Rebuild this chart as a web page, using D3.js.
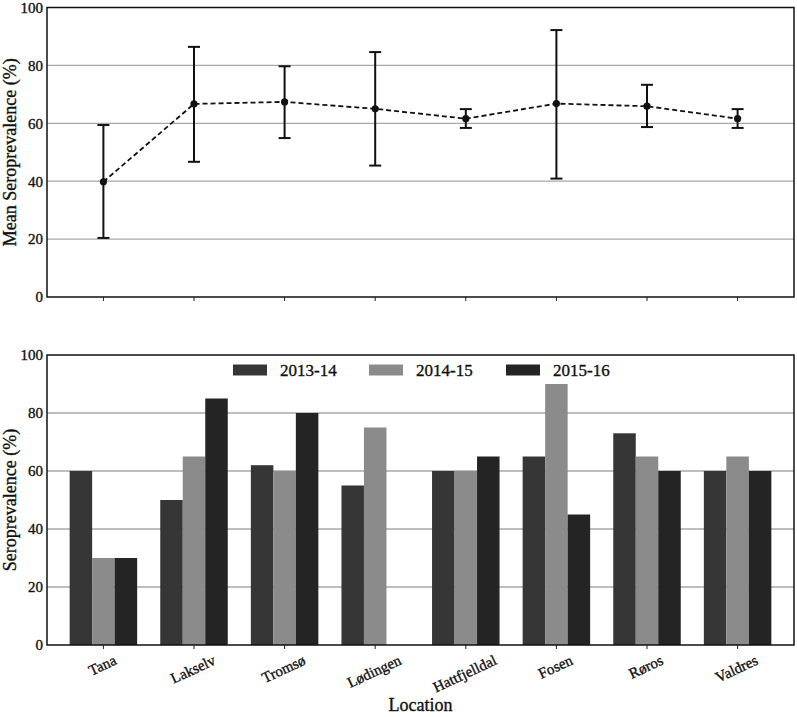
<!DOCTYPE html>
<html>
<head>
<meta charset="utf-8">
<script src="https://cdn.jsdelivr.net/npm/d3@7"></script>
<style>
  html, body { margin: 0; padding: 0; background: #fff; }
  svg { display: block; }
  text { font-family: "Liberation Serif", "Times New Roman", serif; fill: #111; stroke: #111; stroke-width: 0.35px; }
</style>
</head>
<body>
<svg id="chart" width="797" height="717"></svg>
<script>
// ---------- DATA ----------
const locations = ["Tana", "Lakselv", "Tromsø", "Lødingen", "Hattfjelldal", "Fosen", "Røros", "Valdres"];
const meanValues = [39.8, 66.7, 67.4, 65.0, 61.6, 66.8, 65.9, 61.6];
const errLow     = [20.4, 46.7, 54.9, 45.4, 58.4, 40.9, 58.7, 58.4];
const errHigh    = [59.4, 86.4, 79.7, 84.6, 64.9, 92.2, 73.3, 64.9];
const seasons = ["2013-14", "2014-15", "2015-16"];
const values2013 = [60, 50, 62, 55, 60, 65, 73, 60];
const values2014 = [30, 65, 60, 75, 60, 90, 65, 65];
const values2015 = [30, 85, 80, null, 65, 45, 60, 60];
const yTicks = [0, 20, 40, 60, 80, 100];

// ---------- LAYOUT ----------
const svg = d3.select("#chart");
const left = 47, right = 794;
const top1 = 7.5, bottom1 = 297;
const top2 = 355, bottom2 = 645;
const colors = ["#363636", "#8b8b8b", "#242424"];

const x = d3.scaleBand().domain(locations).range([left, right])
  .paddingInner(0.255).paddingOuter(0.25);
const xc = d => x(d) + x.bandwidth() / 2;
const xs = d3.scaleBand().domain(seasons).range([0, x.bandwidth()]);

const y1 = d3.scaleLinear().domain([0, 100]).range([bottom1, top1]);
const y2 = d3.scaleLinear().domain([0, 100]).range([bottom2, top2]);

function panelBase(y, top, bottom) {
  const g = svg.append("g");
  g.append("g").selectAll("line").data(yTicks.filter(t => t > 0 && t < 100)).join("line")
    .attr("x1", left).attr("x2", right)
    .attr("y1", d => y(d)).attr("y2", d => y(d))
    .attr("stroke", "#a8a8a8").attr("stroke-width", 1.3);
  const ya = g.append("g").attr("transform", `translate(${left},0)`)
    .call(d3.axisLeft(y).tickValues(yTicks).tickSize(0).tickPadding(4));
  ya.select(".domain").remove();
  ya.selectAll("text").attr("font-size", 15).attr("font-family", null).attr("fill", null);
  const xa = g.append("g").attr("transform", `translate(0,${bottom})`)
    .call(d3.axisBottom(x).tickSize(4).tickFormat(""));
  xa.select(".domain").remove();
  xa.selectAll("line").attr("stroke", "#222").attr("stroke-width", 1);
  return g;
}

function frame(top, bottom) {
  svg.append("rect").attr("x", left).attr("y", top)
    .attr("width", right - left).attr("height", bottom - top)
    .attr("fill", "none").attr("stroke", "#111").attr("stroke-width", 1.5);
}

// ---------- TOP PANEL ----------
panelBase(y1, top1, bottom1);

const eb = svg.append("g");
locations.forEach((loc, i) => {
  const cx = xc(loc);
  eb.append("line").attr("x1", cx).attr("x2", cx)
    .attr("y1", y1(errLow[i])).attr("y2", y1(errHigh[i]))
    .attr("stroke", "#111").attr("stroke-width", 2);
  [errLow[i], errHigh[i]].forEach(v => {
    eb.append("line").attr("x1", cx - 6).attr("x2", cx + 6)
      .attr("y1", y1(v)).attr("y2", y1(v))
      .attr("stroke", "#111").attr("stroke-width", 2);
  });
});

const line = d3.line().x((d, i) => xc(locations[i])).y(d => y1(d));
svg.append("path").datum(meanValues).attr("d", line)
  .attr("fill", "none").attr("stroke", "#111").attr("stroke-width", 1.8)
  .attr("stroke-dasharray", "5,3");
svg.append("g").selectAll("circle").data(meanValues).join("circle")
  .attr("cx", (d, i) => xc(locations[i])).attr("cy", d => y1(d))
  .attr("r", 3.6).attr("fill", "#111");

frame(top1, bottom1);

svg.append("text")
  .attr("transform", `translate(16,${(top1 + bottom1) / 2}) rotate(-90)`)
  .attr("text-anchor", "middle").attr("font-size", 18)
  .text("Mean Seroprevalence (%)");

// ---------- BOTTOM PANEL ----------
panelBase(y2, top2, bottom2);

const seriesVals = [values2013, values2014, values2015];
const barsG = svg.append("g");
seriesVals.forEach((vals, si) => {
  barsG.append("g").selectAll("rect")
    .data(vals.map((v, i) => ({ loc: locations[i], v })).filter(d => d.v !== null))
    .join("rect")
    .attr("x", d => x(d.loc) + xs(seasons[si]))
    .attr("width", xs.bandwidth())
    .attr("y", d => y2(d.v))
    .attr("height", d => y2(0) - y2(d.v))
    .attr("fill", colors[si]);
});

frame(top2, bottom2);

// legend
const legendX = [233, 369, 506];
seasons.forEach((s, i) => {
  svg.append("rect").attr("x", legendX[i]).attr("y", 364.5)
    .attr("width", 34).attr("height", 11).attr("fill", colors[i]);
  svg.append("text").attr("x", legendX[i] + 47).attr("y", 376)
    .attr("font-size", 17).text(s);
});

// x labels (rotated)
const ang = 25 * Math.PI / 180;
const xl = svg.append("g");
locations.forEach(loc => {
  const t = xl.append("text").attr("font-size", 15).attr("text-anchor", "middle")
    .attr("dominant-baseline", "central").text(loc);
  const L = t.node().getComputedTextLength();
  const h = 16;
  const cy = 652 + (L / 2) * Math.sin(ang) + (h / 2) * Math.cos(ang);
  t.attr("transform", `translate(${xc(loc) - 1},${cy}) rotate(-25)`);
});

svg.append("text")
  .attr("transform", `translate(16,${(top2 + bottom2) / 2}) rotate(-90)`)
  .attr("text-anchor", "middle").attr("font-size", 18)
  .text("Seroprevalence (%)");

svg.append("text").attr("x", (left + right) / 2).attr("y", 711)
  .attr("text-anchor", "middle").attr("font-size", 18).text("Location");
</script>
</body>
</html>
